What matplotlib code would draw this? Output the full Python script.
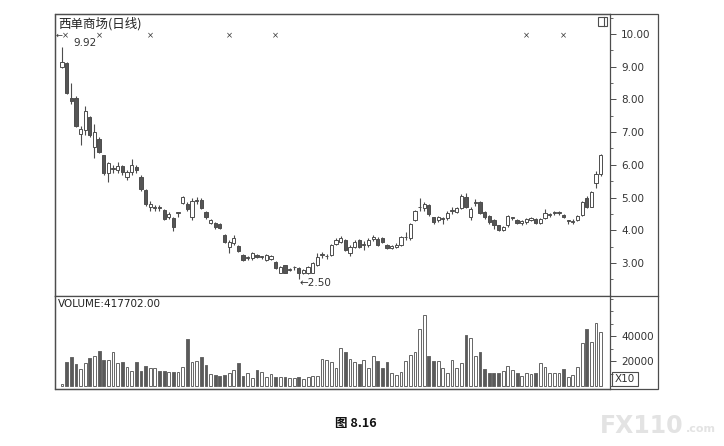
import matplotlib.pyplot as plt
from matplotlib.patches import Rectangle
from matplotlib.lines import Line2D
from matplotlib.ticker import MultipleLocator

plt.rcParams['font.family'] = ['DejaVu Sans', 'Noto Sans CJK SC']

# daily candles, 西单商场
opens = [9.00, 9.12, 8.05, 8.05, 6.95, 7.05, 7.45, 6.55, 6.80, 6.30,
         5.75, 5.87, 5.84, 5.95, 5.63, 5.78, 5.93, 5.63, 5.23, 4.71,
         4.68, 4.70, 4.62, 4.40, 4.37, 4.53, 4.84, 4.80, 4.40, 4.90,
         4.93, 4.56, 4.22, 4.22, 4.20, 3.86, 3.49, 3.61, 3.52, 3.24,
         3.15, 3.15, 3.24, 3.18, 3.10, 3.12, 3.03, 2.70, 2.94, 2.80,
         2.87, 2.85, 2.70, 2.68, 2.70, 2.94, 3.24, 3.20, 3.24, 3.58,
         3.64, 3.70, 3.30, 3.49, 3.70, 3.55, 3.55, 3.72, 3.73, 3.75,
         3.55, 3.45, 3.50, 3.55, 3.78, 3.76, 4.31, 4.70, 4.68, 4.77,
         4.40, 4.31, 4.33, 4.37, 4.59, 4.56, 4.68, 5.02, 4.40, 4.83,
         4.86, 4.56, 4.44, 4.31, 4.16, 4.00, 4.16, 4.37, 4.31, 4.22,
         4.26, 4.30, 4.34, 4.22, 4.37, 4.47, 4.53, 4.53, 4.48, 4.28,
         4.25, 4.31, 4.47, 4.99, 4.71, 5.44, 5.72]
highs = [9.60, 9.15, 8.50, 8.10, 7.20, 7.80, 7.50, 7.25, 6.85, 6.30,
         6.10, 6.00, 6.10, 6.00, 5.85, 6.18, 5.98, 5.70, 5.25, 4.90,
         4.78, 4.78, 4.65, 4.55, 4.40, 4.55, 5.05, 4.85, 5.00, 5.02,
         5.00, 4.58, 4.35, 4.25, 4.22, 3.90, 3.70, 3.85, 3.55, 3.26,
         3.20, 3.35, 3.28, 3.22, 3.28, 3.25, 3.05, 2.90, 2.95, 2.85,
         2.92, 2.87, 2.82, 2.90, 3.02, 3.30, 3.35, 3.28, 3.58, 3.75,
         3.82, 3.72, 3.55, 3.70, 3.72, 3.68, 3.75, 3.85, 3.78, 3.80,
         3.58, 3.56, 3.60, 3.82, 3.95, 4.22, 4.62, 4.99, 4.85, 4.80,
         4.42, 4.45, 4.42, 4.58, 4.70, 4.72, 5.10, 5.15, 4.70, 4.95,
         4.90, 4.58, 4.46, 4.33, 4.17, 4.12, 4.48, 4.42, 4.33, 4.32,
         4.38, 4.42, 4.36, 4.36, 4.65, 4.52, 4.58, 4.58, 4.50, 4.32,
         4.35, 4.46, 4.88, 5.05, 5.20, 5.80, 6.32]
lows = [8.95, 8.15, 7.85, 7.15, 6.60, 6.90, 6.85, 6.20, 6.35, 5.70,
        5.47, 5.75, 5.75, 5.70, 5.55, 5.70, 5.75, 5.20, 4.75, 4.60,
        4.60, 4.60, 4.30, 4.35, 3.98, 4.40, 4.80, 4.60, 4.30, 4.80,
        4.65, 4.35, 4.18, 4.05, 4.05, 3.60, 3.30, 3.55, 3.35, 3.05,
        3.10, 3.10, 3.15, 3.12, 3.05, 3.10, 2.82, 2.68, 2.68, 2.75,
        2.80, 2.50, 2.65, 2.65, 2.68, 2.90, 3.15, 3.12, 3.20, 3.55,
        3.60, 3.38, 3.20, 3.45, 3.45, 3.40, 3.50, 3.68, 3.52, 3.60,
        3.43, 3.42, 3.45, 3.52, 3.70, 3.70, 4.28, 4.60, 4.60, 4.45,
        4.20, 4.25, 4.20, 4.30, 4.50, 4.52, 4.65, 4.68, 4.30, 4.75,
        4.50, 4.35, 4.20, 4.05, 3.98, 3.98, 4.10, 4.30, 4.18, 4.15,
        4.20, 4.28, 4.20, 4.20, 4.35, 4.40, 4.48, 4.48, 4.38, 4.20,
        4.20, 4.28, 4.45, 4.68, 4.70, 5.30, 5.65]
closes = [9.15, 8.20, 7.95, 7.20, 7.10, 7.65, 6.90, 7.00, 6.40, 5.75,
          6.05, 5.88, 5.96, 5.78, 5.78, 6.00, 5.84, 5.26, 4.80, 4.80,
          4.70, 4.67, 4.34, 4.50, 4.10, 4.53, 5.02, 4.65, 4.90, 4.90,
          4.68, 4.40, 4.31, 4.10, 4.07, 3.64, 3.64, 3.76, 3.37, 3.09,
          3.15, 3.30, 3.18, 3.18, 3.24, 3.20, 2.85, 2.88, 2.70, 2.80,
          2.87, 2.68, 2.80, 2.87, 3.00, 3.18, 3.24, 3.20, 3.55, 3.70,
          3.76, 3.40, 3.49, 3.64, 3.49, 3.55, 3.70, 3.80, 3.55, 3.65,
          3.46, 3.52, 3.56, 3.80, 3.78, 4.19, 4.59, 4.70, 4.80, 4.50,
          4.25, 4.40, 4.38, 4.53, 4.59, 4.68, 5.05, 4.71, 4.65, 4.83,
          4.53, 4.40, 4.25, 4.16, 4.00, 4.10, 4.44, 4.37, 4.22, 4.28,
          4.34, 4.37, 4.22, 4.34, 4.53, 4.47, 4.53, 4.53, 4.42, 4.28,
          4.25, 4.44, 4.86, 4.71, 5.17, 5.72, 6.30]
# volume in lots (x10)
volumes = [1500, 19000, 23000, 17600, 13600, 18400, 22400, 24000, 28000, 20800,
           20800, 27200, 18400, 19200, 15200, 12000, 19200, 12000, 16000, 14400,
           14400, 12000, 12000, 11200, 11200, 11200, 15200, 37600, 19200, 20000,
           23200, 16800, 9600, 8800, 8000, 8800, 10400, 12800, 18400, 8000,
           10400, 6400, 12800, 11200, 7200, 9600, 7200, 7200, 7200, 6400,
           6400, 7200, 5600, 7200, 8000, 8000, 21600, 20800, 19200,
           14400, 30400, 27200, 21600, 19200, 17600, 20800, 14400, 24000, 20000,
           14400, 19200, 10400, 8800, 11200, 20000, 24800, 27200, 45600, 56800,
           24000, 20000, 20000, 14400, 10400, 20800, 14400, 18400, 40800, 38400,
           24000, 27200, 13600, 10400, 10400, 10400, 12000, 16000, 12800, 10400,
           8000, 10400, 9600, 10400, 18400, 15200, 10400, 10400, 10400, 13600,
           7200, 8800, 15200, 34400, 45600, 35200, 50400, 43200]
marker_days = [8, 19, 36, 46, 100, 108]
price_ticks = [3, 4, 5, 6, 7, 8, 9, 10]
vol_ticks = [20000, 40000]

W, H = 724, 446
edge = '#4d4d4d'
dark = '#555555'
vedge = '#666666'

fig = plt.figure(figsize=(W / 100, H / 100), dpi=100)


def box(x0, y0, x1, y1):
    # pixel box -> figure fraction [left, bottom, width, height]
    return [x0 / W, 1 - y1 / H, (x1 - x0) / W, (y1 - y0) / H]


ax = fig.add_axes(box(55, 14, 610, 296))
axv = fig.add_axes(box(55, 296, 610, 389), sharex=ax)

n = len(closes)
xs = list(range(n))
up = [c >= o for o, c in zip(opens, closes)]

# candles
ax.vlines(xs, lows, highs, color=edge, lw=0.8, zorder=1)
bottoms = [min(o, c) for o, c in zip(opens, closes)]
heights = [max(abs(c - o), 0.02) for o, c in zip(opens, closes)]
faces = ['white' if u else dark for u in up]
ax.bar(xs, heights, bottom=bottoms, width=0.7, color=faces,
       edgecolor=edge, linewidth=0.7, zorder=2)

ax.set_xlim(-1.5, n + 1.0)
ax.set_ylim(1.99, 10.61)
ax.yaxis.tick_right()
ax.set_yticks(price_ticks)
ax.set_yticklabels([f"{t:.2f}" for t in price_ticks])
ax.yaxis.set_minor_locator(MultipleLocator(0.5))
ax.tick_params(axis='y', which='major', length=4, width=0.7, color=edge,
               labelsize=7.5, labelcolor='#333333', pad=4)
ax.tick_params(axis='y', which='minor', length=2, width=0.6, color=edge)
ax.tick_params(axis='x', bottom=False, labelbottom=False)

# volume
vcol = ['white' if u else '#5a5a5a' for u in up]
axv.bar(xs, volumes, width=0.6, color=vcol, edgecolor=vedge,
        linewidth=0.7)
axv.set_ylim(-2400, 72000)
axv.yaxis.tick_right()
axv.set_yticks(vol_ticks)
axv.set_yticklabels([str(t) for t in vol_ticks])
axv.yaxis.set_minor_locator(MultipleLocator(10000))
axv.tick_params(axis='y', which='major', length=4, width=0.7, color=edge,
                labelsize=7.5, labelcolor='#333333', pad=4)
axv.tick_params(axis='y', which='minor', length=2, width=0.6, color=edge)
axv.tick_params(axis='x', bottom=False, labelbottom=False)

for a in (ax, axv):
    for s in a.spines.values():
        s.set_color(edge)
        s.set_linewidth(0.9)

# outer frame and right-hand panel
fig.add_artist(Rectangle((55 / W, 1 - 389 / H), 603 / W, 375 / H,
                         transform=fig.transFigure, fill=False,
                         edgecolor=edge, lw=0.9))
fig.add_artist(Line2D([610 / W, 658 / W], [1 - 296 / H, 1 - 296 / H],
                      transform=fig.transFigure, color=edge, lw=0.9))
fig.add_artist(Rectangle((612 / W, 1 - 386 / H), 26 / W, 14 / H,
                         transform=fig.transFigure, fill=False,
                         edgecolor=edge, lw=0.8))
fig.text(625 / W, 1 - 379 / H, "X10", fontsize=7.5, color='#333333',
         ha='center', va='center')

# small window icon
fig.add_artist(Rectangle((598 / W, 1 - 26 / H), 9 / W, 9 / H,
                         transform=fig.transFigure, fill=False,
                         edgecolor=edge, lw=0.8))
fig.add_artist(Line2D([604 / W, 604 / W], [1 - 26 / H, 1 - 17 / H],
                      transform=fig.transFigure, color=edge, lw=0.8))

# labels
ax.text(0.005, 0.99, "西单商场(日线)", transform=ax.transAxes, fontsize=9,
        family=['Noto Sans CJK SC', 'DejaVu Sans'], color='#222222',
        ha='left', va='top')
axv.text(0.006, 0.97, "VOLUME:417702.00", transform=axv.transAxes,
         fontsize=7.5, color='#222222', ha='left', va='top')

for d in marker_days:
    ax.text(d, 9.94, "×", fontsize=6, color='#333333', ha='center',
            va='center')
ax.text(-1.3, 9.94, "←×", fontsize=6, color='#333333', ha='left',
        va='center')
ax.text(2.5, 9.72, "9.92", fontsize=7.5, color='#333333', ha='left',
        va='center')

low_i = lows.index(min(lows))
ax.text(low_i + 0.2, min(lows) - 0.1, f"←{min(lows):.2f}", fontsize=7.5,
        color='#333333', ha='left', va='center')

# caption and watermark
fig.text(356 / W, 1 - 424 / H, "图 8.16", fontsize=9, fontweight='bold',
         family=['Noto Sans CJK SC', 'DejaVu Sans'], ha='center',
         va='center', color='#111111')
fig.text(600 / W, 1 - 426 / H, "FX110", fontsize=17, fontweight='bold',
         color='#e3e3e3', ha='left', va='center')
fig.text(686 / W, 1 - 429 / H, ".com", fontsize=8, fontweight='bold',
         color='#e3e3e3', ha='left', va='center')

fig.savefig("out.png", dpi=100)
